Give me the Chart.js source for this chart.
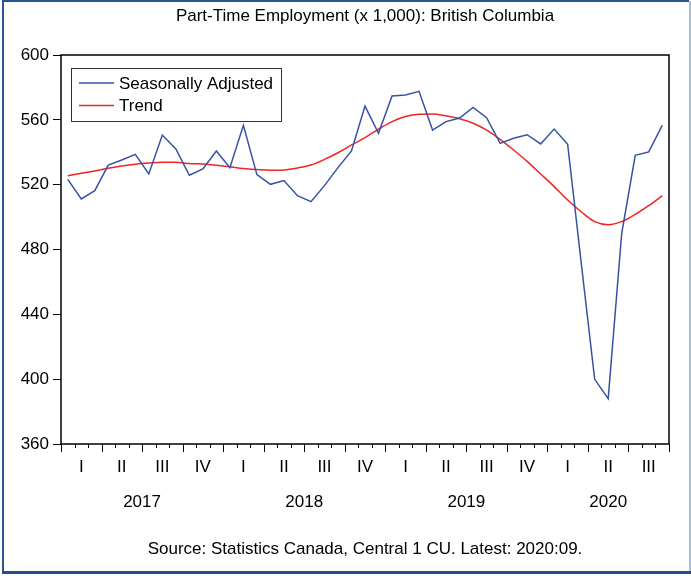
<!DOCTYPE html>
<html>
<head>
<meta charset="utf-8">
<script src="https://cdn.jsdelivr.net/npm/chart.js@4"></script>
<style>
    html, body { margin: 0; padding: 0; background: #fff; }
    #wrap { width: 691px; height: 579px; }
</style>
</head>
<body>
<div id="wrap"><canvas id="ptChart" width="691" height="579"></canvas></div>
<script>
// Monthly data, Jan 2017 - Sep 2020
const seasonallyAdjusted = [523.3, 511.2, 516.3, 532.1, 535.2, 538.7, 526.6, 550.6, 542.0, 525.8, 529.7, 540.8,
    530.5, 556.6, 526.2, 520.2, 522.5, 513.2, 509.5, 519.4, 530.5, 540.8, 568.5, 551.7,
    574.7, 575.3, 577.6, 553.7, 558.9, 561.1, 567.7, 561.3, 545.5, 548.6, 550.8, 545.1,
    554.3, 544.9, 472.0, 399.9, 388.0, 490.0, 538.1, 540.2, 556.6];
const trend = [525.5, 527.0, 528.5, 530.1, 531.5, 532.6, 533.3, 533.8, 533.8, 533.0, 532.7, 532.0,
    531.0, 529.9, 529.3, 528.9, 529.1, 530.3, 532.1, 535.6, 539.7, 544.5, 549.0, 554.2,
    558.9, 562.0, 563.4, 563.6, 562.4, 560.7, 557.9, 553.7, 548.0, 541.4, 534.4, 526.6,
    518.8, 510.5, 503.3, 497.2, 495.3, 497.2, 501.7, 507.0, 513.2];
const quarterNames = ['I', 'II', 'III', 'IV'];
const years = ['2017', '2018', '2019', '2020'];
const monthsPerYear = [12, 12, 12, 9];
const yTicks = [360, 400, 440, 480, 520, 560, 600];

const FONT = "'Liberation Sans', Arial, sans-serif";
const FSIZE = 17;

function toPoints(values) {
    return values.map((v, i) => ({ x: i + 0.5, y: v }));
}

// Frame, x axis ticks/labels, legend and source note
const extras = {
    id: 'extras',
    beforeDraw(chart) {
        const ctx = chart.ctx;
        ctx.save();
        ctx.fillStyle = '#fff';
        ctx.fillRect(0, 0, chart.width, chart.height);
        ctx.restore();
    },
    afterDraw(chart) {
        const ctx = chart.ctx;
        const area = chart.chartArea;
        const xs = chart.scales.x;
        ctx.save();

        // outer border
        ctx.strokeStyle = '#2a5590';
        ctx.lineWidth = 2;
        ctx.beginPath();
        ctx.moveTo(3, 574); ctx.lineTo(3, 1); ctx.lineTo(689, 1);
        ctx.stroke();
        ctx.strokeStyle = '#8aa8cc';
        ctx.lineWidth = 1.5;
        ctx.beginPath();
        ctx.moveTo(690, 1); ctx.lineTo(690, 572);
        ctx.stroke();
        ctx.strokeStyle = '#1f4f8a';
        ctx.lineWidth = 3;
        ctx.beginPath();
        ctx.moveTo(2, 572.5); ctx.lineTo(691, 572.5);
        ctx.stroke();

        // plot frame
        ctx.strokeStyle = '#000';
        ctx.lineWidth = 1.5;
        ctx.strokeRect(area.left, area.top, area.right - area.left, area.bottom - area.top);

        // month ticks, longer at quarters
        ctx.lineWidth = 1;
        const total = seasonallyAdjusted.length;
        for (let k = 0; k <= total; k++) {
            const px = Math.round(xs.getPixelForValue(k)) + 0.5;
            const len = k % 3 === 0 ? 8 : 4;
            ctx.beginPath();
            ctx.moveTo(px, area.bottom);
            ctx.lineTo(px, area.bottom + len);
            ctx.stroke();
        }

        // quarter labels
        ctx.fillStyle = '#000';
        ctx.font = FSIZE + 'px ' + FONT;
        ctx.textAlign = 'center';
        ctx.textBaseline = 'middle';
        for (let q = 0; q < total / 3; q++) {
            ctx.fillText(quarterNames[q % 4], xs.getPixelForValue(q * 3 + 1.5), 467);
        }

        // year labels
        let start = 0;
        years.forEach((yr, i) => {
            const mid = start + monthsPerYear[i] / 2;
            ctx.fillText(yr, xs.getPixelForValue(mid), 502);
            start += monthsPerYear[i];
        });

        // source
        ctx.fillText('Source: Statistics Canada, Central 1 CU. Latest: 2020:09.', (area.left + area.right) / 2, 549);

        // legend
        ctx.fillStyle = '#fff';
        ctx.fillRect(71, 68, 210, 53);
        ctx.strokeStyle = '#333';
        ctx.lineWidth = 1;
        ctx.strokeRect(71.5, 68.5, 210, 53);
        ctx.textAlign = 'left';
        chart.data.datasets.forEach((ds, i) => {
            const ly = 83 + i * 22.5;
            ctx.strokeStyle = ds.borderColor;
            ctx.lineWidth = 1.5;
            ctx.beginPath();
            ctx.moveTo(79, ly);
            ctx.lineTo(114, ly);
            ctx.stroke();
            ctx.fillStyle = '#000';
            ctx.fillText(ds.label, 119, ly + 1);
        });

        ctx.restore();
    }
};

const ctx = document.getElementById('ptChart').getContext('2d');
new Chart(ctx, {
    type: 'line',
    data: {
        datasets: [
            {
                label: 'Seasonally Adjusted',
                data: toPoints(seasonallyAdjusted),
                borderColor: '#3653a3',
                borderWidth: 1.5,
                pointRadius: 0,
                tension: 0,
            },
            {
                label: 'Trend',
                data: toPoints(trend),
                borderColor: '#f02424',
                borderWidth: 1.5,
                pointRadius: 0,
                cubicInterpolationMode: 'monotone',
            },
        ],
    },
    options: {
        responsive: false,
        animation: false,
        layout: { padding: { left: 0, right: 22, top: 0, bottom: 0 } },
        plugins: {
            legend: { display: false },
            tooltip: { enabled: false },
            title: {
                display: true,
                fullSize: false,
                text: 'Part-Time Employment (x 1,000): British Columbia',
                color: '#000',
                font: { family: FONT, size: FSIZE, weight: 'normal', lineHeight: 1.2 },
                padding: { top: 6, bottom: 28.6 },
            },
        },
        scales: {
            x: {
                type: 'linear',
                min: 0,
                max: seasonallyAdjusted.length,
                ticks: { display: false },
                grid: { display: false },
                border: { display: false },
                afterFit: (s) => { s.height = 135; },
            },
            y: {
                min: yTicks[0],
                max: yTicks[yTicks.length - 1],
                afterBuildTicks: (s) => { s.ticks = yTicks.map(v => ({ value: v })); },
                ticks: {
                    color: '#000',
                    padding: 4,
                    font: { family: FONT, size: FSIZE },
                },
                grid: { drawOnChartArea: false, tickLength: 8, tickColor: '#000', tickWidth: 1 },
                border: { display: false },
                afterFit: (s) => { s.width = 61; },
            },
        },
    },
    plugins: [extras],
});
</script>
</body>
</html>
